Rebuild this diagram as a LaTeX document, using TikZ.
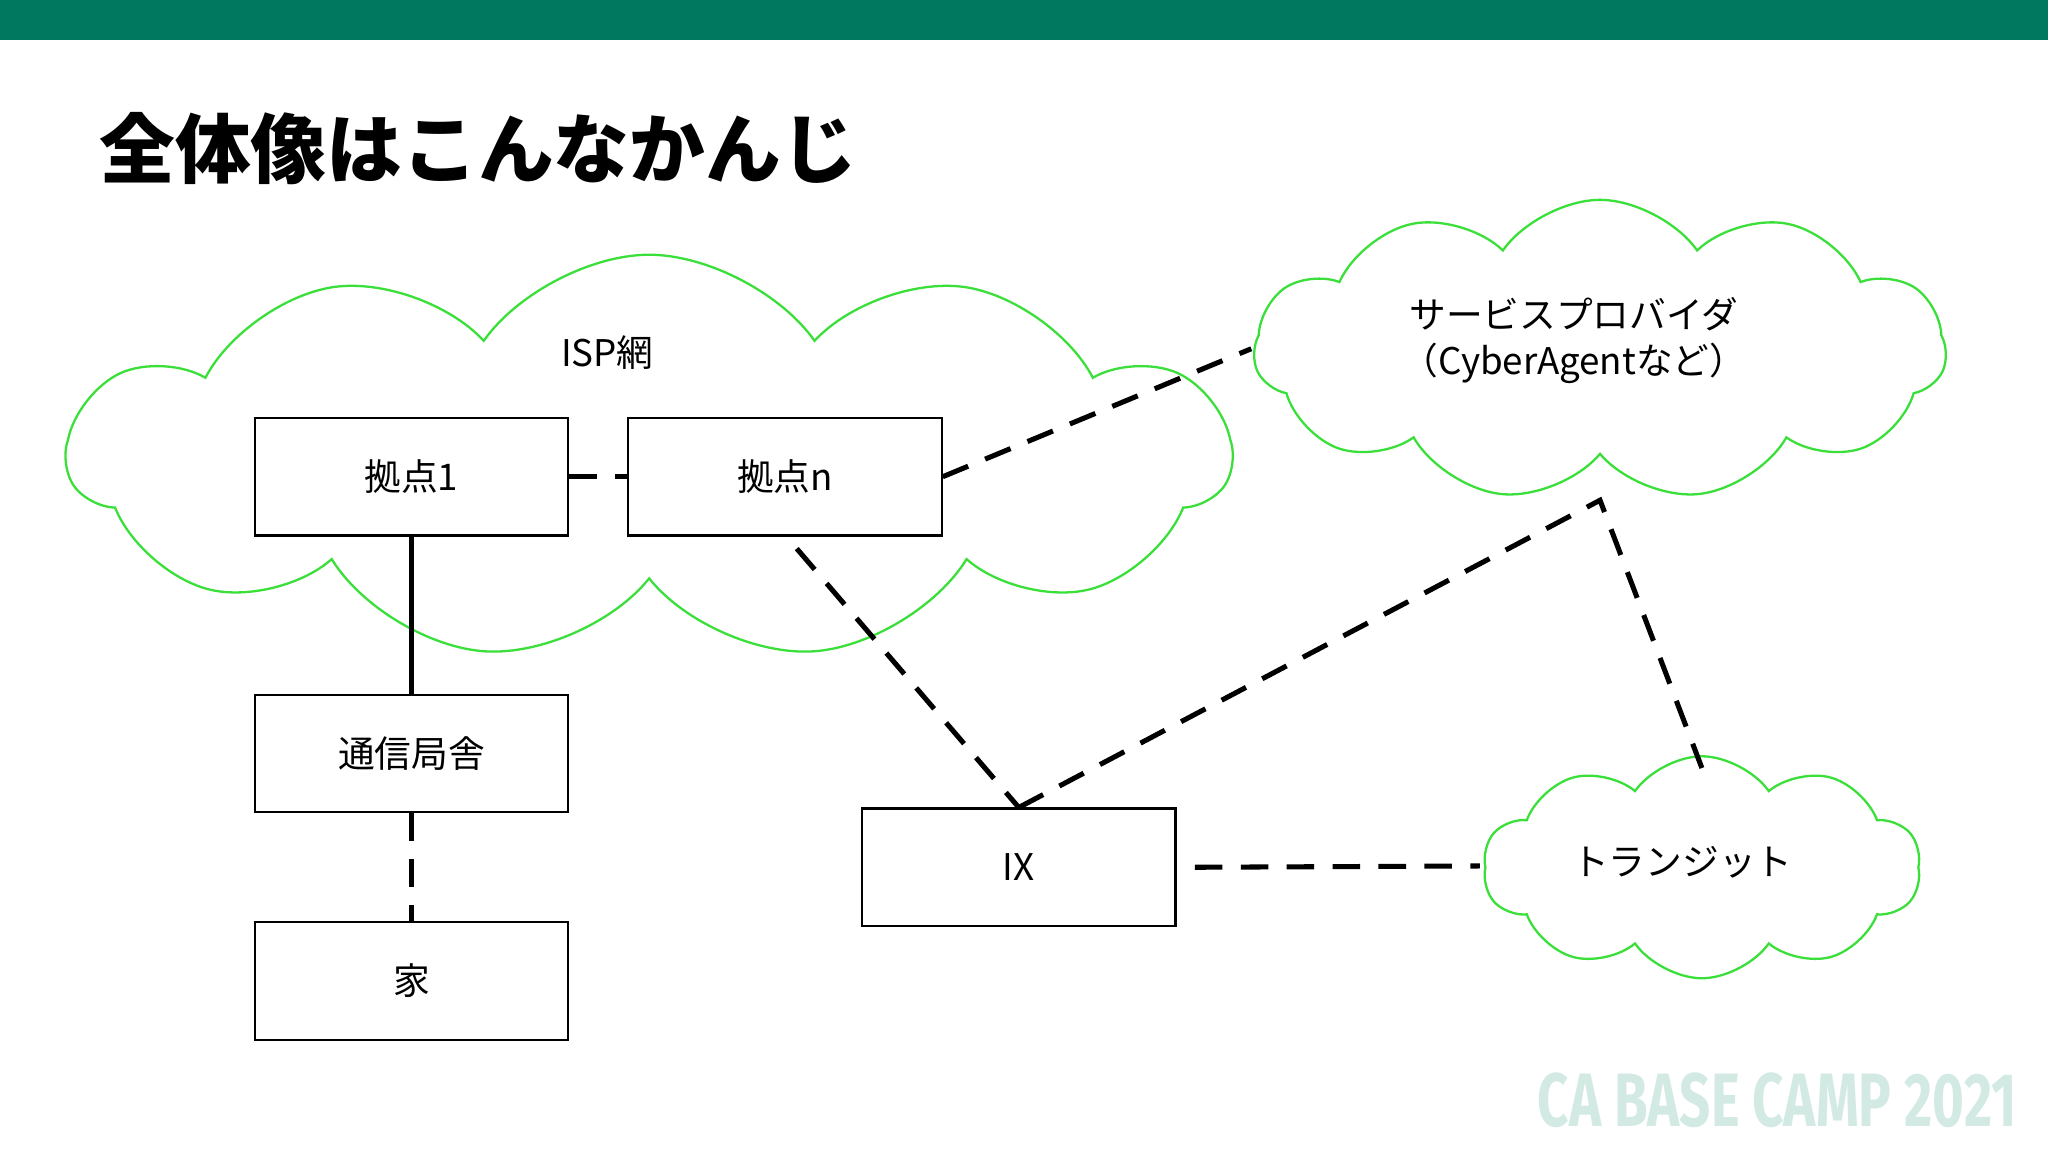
\documentclass[tikz,border=0pt]{standalone}
\usepackage{fontspec}
\setmainfont{Noto Sans CJK JP}
\newfontfamily\logofont{Fira Sans}[FakeStretch=0.72]
\usetikzlibrary{shapes.symbols}
\definecolor{barteal}{HTML}{00785F}
\definecolor{cloudgreen}{HTML}{3ADF3A}
\definecolor{logoteal}{HTML}{D3EAE4}
\begin{document}
\begin{tikzpicture}[x=0.02cm,y=-0.02cm,
  box/.style={draw,line width=0.9pt,minimum width=4.8cm,minimum height=1.8cm,font=\fontsize{16}{18}\selectfont},
  cld/.style={cloud,cloud puffs=11,cloud puff arc=110,aspect=2.4,draw=cloudgreen,line width=1pt,inner sep=0pt},
  dashln/.style={line width=2.2pt,dash pattern=on 12pt off 8pt},
  lbl/.style={font=\fontsize{16}{20}\selectfont,align=center}]
\useasboundingbox (0,0) rectangle (1568,882);
\fill[barteal] (0,0) rectangle (1568,31);
\node[anchor=base west,font=\fontsize{33}{36}\bfseries\selectfont] (title) at (70,136) {全体像はこんなかんじ};
% clouds
\node[cld,minimum width=17.8cm,minimum height=6.2cm] (isp) at (497,350) {};
\node[cld,minimum width=10.6cm,minimum height=4.6cm] (sp) at (1225,268) {};
\node[cld,cloud puffs=10,minimum width=6.7cm,minimum height=3.4cm] (tr) at (1303,664) {};
\node[lbl] (ispl) at (465,270) {ISP網};
\node[lbl] (spl) at (1205,261) {サービスプロバイダ\\（CyberAgentなど）};
\node[lbl] (trl) at (1288,660) {トランジット};
% boxes
\node[box] (k1) at (315,365) {拠点1};
\node[box] (kn) at (601,365) {拠点n};
\node[box] (tel) at (315,577) {通信局舎};
\node[box] (home) at (315,751) {家};
\node[box] (ix) at (780,664) {IX};
\coordinate (spin) at (958,267);
\coordinate (spbot) at (1225,383);
\coordinate (trtop) at (1303,588);
\coordinate (trl0) at (1133,663);
\coordinate (knb) at (610,420);
% connectors
\draw[dashln] (k1) -- (kn);
\draw[line width=2.2pt] (k1) -- (tel);
\draw[dashln] (tel) -- (home);
\draw[dashln] (kn.east) -- (spin);
\draw[dashln] (knb) -- (ix.north);
\draw[dashln] (ix.north) -- (spbot) -- (trtop);
\draw[dashln] ([xshift=8]ix.east) -- (trl0);
\node[anchor=east,text=logoteal,font=\logofont\fontsize{33}{36}\bfseries\selectfont] (logo) at (1550,842) {CA BASE CAMP 2021};
\end{tikzpicture}
\end{document}
